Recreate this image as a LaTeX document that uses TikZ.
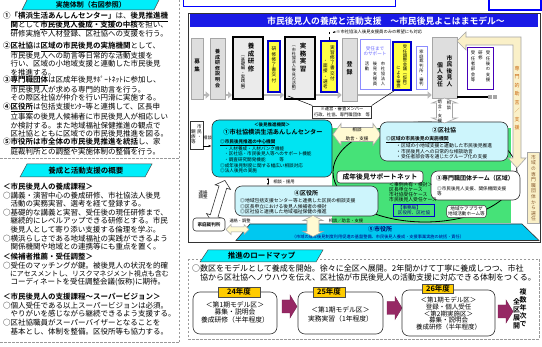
\documentclass[tikz,border=0pt]{standalone}
\usepackage{fontspec}
\setmainfont{Noto Sans CJK JP}[BoldFont={Noto Sans CJK JP Bold}]
\newfontfamily\jpv{Noto Sans CJK JP}[RawFeature=+vert,BoldFont={Noto Sans CJK JP Bold}]
\usetikzlibrary{arrows.meta,calc}
\pgfdeclarelayer{bg}
\pgfsetlayers{bg,main}
\definecolor{hcyan}{RGB}{0,238,250}
\definecolor{tblue}{RGB}{25,25,230}
\definecolor{cone}{RGB}{0,228,242}
\definecolor{lcyan}{RGB}{205,245,252}
\definecolor{grn}{RGB}{70,226,120}
\definecolor{cfive}{RGB}{0,200,240}
\definecolor{yel}{RGB}{255,255,70}
\definecolor{gbx}{RGB}{222,222,222}
\definecolor{beige}{RGB}{250,240,200}
\definecolor{mar}{RGB}{150,40,100}
\definecolor{ylab}{RGB}{255,204,0}
\definecolor{lyel}{RGB}{255,250,210}
\definecolor{brn}{RGB}{200,100,10}
\makeatletter
\newcommand\vtxt[1]{\@tfor\vt@c:=#1\do{\vt@c\par}}
\makeatother
\tikzset{
  pics/dbar/.style n args={4}{code={\draw[pic actions] (-#1,0) -- (-#1+#4,#3) -- (-#1+#4,#2) -- (#1-#4,#2) -- (#1-#4,#3) -- (#1,0) -- (#1-#4,-#3) -- (#1-#4,-#2) -- (-#1+#4,-#2) -- (-#1+#4,-#3) -- cycle;}},
  pics/sbar/.style n args={4}{code={\draw[pic actions] (-#1,-#2) -- (#1-#4,-#2) -- (#1-#4,-#3) -- (#1,0) -- (#1-#4,#3) -- (#1-#4,#2) -- (-#1,#2) -- cycle;}},
}
\begin{document}
\begin{tikzpicture}[x=1pt,y=-1pt,every node/.style={inner sep=0pt},
  lt/.style={anchor=west,font=\fontsize{7.5}{8}\selectfont},
  vt/.style={anchor=north,text width=14pt,align=center},
  vf/.style 2 args={vt,font={\jpv\fontsize{#1}{#2}\selectfont}},
  vfb/.style 2 args={vt,font={\jpv\bfseries\fontsize{#1}{#2}\selectfont}},
  fs/.style={font={\fontsize{#1}{#1}\selectfont}},
  fsb/.style={font={\bfseries\fontsize{#1}{#1}\selectfont}},
  dashl/.style={draw=gray!80,dash pattern=on 2.5pt off 1.5pt,line width=0.6pt},
  gbox/.style={draw=gray!70,fill=gbx,line width=0.6pt},
  kbox/.style={draw=black,fill=gbx!60,line width=2pt},
  ybox/.style={draw=blue!80!black,fill=yel,line width=1.2pt},
  lbbox/.style={draw=blue!45,fill=white,line width=1pt},
  rbox/.style={draw=black!80,line width=0.6pt,rounded corners=7pt},
  flow/.style={draw=gray!55,line width=2.6pt,-{Triangle[length=4pt,width=7pt]}},
]
\useasboundingbox (0,0) rectangle (542,347);
\begin{pgfonlayer}{bg}
\fill[white] (0,0) rectangle (542,347);
\end{pgfonlayer}

% ================= LEFT COLUMN =================
\draw[dashl] (179,0) -- (179,342);
\draw[dashl] (0,158) -- (179,158);
\draw[dashl] (0,342) -- (179,342);
\draw[fill=hcyan,draw=black!70,line width=0.5pt] (28,-2) -- (160,-2) -- (154,10) -- (22,10) -- cycle;
\node[fsb=7] (h1) at (91,4.5) {実施体制（右図参照）};
\node[lt] (l01) at (3,17) {\textbf{①}\underline{\textbf{「横浜生活あんしんセンター」}}は、\underline{\textbf{後見推進機}}};
\node[lt] (l02) at (3,25.5) {　\underline{\textbf{関}}として\underline{\textbf{市民後見人養成・支援の中核}}を担い、};
\node[lt] (l03) at (3,34) {　研修実施や人材登録、区社協への支援を行う。};
\node[lt] (l04) at (3,47) {\textbf{②}\underline{\textbf{区社協}}は\underline{\textbf{区域の市民後見の実施機関}}として、};
\node[lt] (l05) at (3,55.5) {　市民後見人への助言等日常的な活動支援を};
\node[lt] (l06) at (3,64) {　行い、区域の小地域支援と連動した市民後見};
\node[lt] (l07) at (3,72.5) {　を推進する。};
\node[lt] (l08) at (3,81) {\textbf{③}\underline{\textbf{専門職団体}}は区成年後見ｻﾎﾟｰﾄﾈｯﾄに参加し、};
\node[lt] (l09) at (3,89.5) {　市民後見人が求める専門的助言を行う。};
\node[lt] (l10) at (3,98) {　その際区社協が仲介を行い円滑に実施する。};
\node[lt] (l11) at (3,107.5) {\textbf{④}\underline{\textbf{区役所}}は包括支援ｾﾝﾀｰ等と連携して、区長申};
\node[lt] (l12) at (3,116.5) {　立事案の後見人候補者に市民後見人が相応しい};
\node[lt] (l13) at (3,125.5) {　か検討する。また地域福祉保健推進の観点で};
\node[lt] (l14) at (3,134) {　区社協とともに区域での市民後見推進を図る。};
\node[lt] (l15) at (3,143) {\textbf{⑤}\underline{\textbf{市役所は市全体の市民後見推進を統括}}し、家};
\node[lt] (l16) at (3,151.5) {　庭裁判所との調整や実施体制の整備を行う。};

\draw[fill=hcyan,draw=black!70,line width=0.5pt] (27,164) -- (152,164) -- (145,177) -- (20,177) -- cycle;
\node[fsb=7.5] (h2) at (86,170.5) {養成と活動支援の概要};
\node[lt,font=\bfseries\fontsize{7.5}{8}\selectfont] (m01) at (3,187) {＜市民後見人の養成課程＞};
\node[lt] (m02) at (3,195.5) {○講義・演習中心の養成研修、市社協法人後見};
\node[lt] (m03) at (3,203.5) {　活動の実務実習、選考を経て登録する。};
\node[lt] (m04) at (3,213) {○基礎的な講義と実習、受任後の現任研修まで、};
\node[lt] (m05) at (3,221) {　継続的にレベルアップできる研修とする。市民};
\node[lt] (m06) at (3,229.5) {　後見人として寄り添い支援する倫理を学ぶ。};
\node[lt] (m07) at (3,238.5) {○横浜らしさである地域福祉の実践ができるよう};
\node[lt] (m08) at (3,247) {　関係機関や地域との連携等にも重点を置く。};
\node[lt,font=\bfseries\fontsize{7.5}{8}\selectfont] (m09) at (3,257) {＜候補者推薦・受任調整＞};
\node[lt] (m10) at (3,265.5) {○受任のマッチングが鍵。被後見人の状況を的確};
\node[lt,font=\fontsize{6.9}{8}\selectfont] (m11) at (3,274) {　にアセスメントし、リスクマネジメント視点も含む};
\node[lt] (m12) at (3,282.5) {　コーディネートを受任調整会議(仮称)に期待。};
\node[lt,font=\bfseries\fontsize{7.5}{8}\selectfont] (m13) at (3,297) {＜市民後見人の支援課程〜スーパービジョン＞};
\node[lt] (m14) at (3,305.5) {○個人受任である以上スーパービジョンは必須。};
\node[lt] (m15) at (3,314) {　やりがいを感じながら継続できるよう支援する。};
\node[lt] (m16) at (3,323) {○区社協職員がスーパーバイザーとなることを};
\node[lt] (m17) at (3,331.5) {　基本とし、体制を整備。区役所等も協力する。};

% ================= RIGHT DIAGRAM =================
\draw[draw=blue,line width=0.8pt,fill=white] (183,-3) rectangle (395,6);
\draw[draw=blue,line width=1.2pt,fill=white] (489,-3) rectangle (541,10);
\draw[black!80,line width=0.6pt] (188,13) rectangle (540,242);
\fill[tblue] (190,14.5) rectangle (538,27.5);
\node[font=\bfseries\fontsize{8.8}{10}\selectfont,text=white] (title) at (386,21) {市民後見人の養成と活動支援　〜市民後見よこはまモデル〜};
\node[anchor=west,fs=4.3] (note1) at (336,32) {※市社協法人後見支援員のみの希望にも対応};

% process boxes
\node[gbox,minimum width=12,minimum height=61] (bosyu) at (197,68.5) {};
\node[gbox,minimum width=15,minimum height=61] (setsu) at (217.5,68.5) {};
\node[kbox,minimum width=30,minimum height=62] (kensyu) at (248,68) {};
\node[ybox,minimum width=12,minimum height=51] (shu1) at (274,66.5) {};
\node[kbox,minimum width=30,minimum height=62] (jm) at (300,68) {};
\node[ybox,minimum width=16,minimum height=51] (shu2) at (329,66.5) {};
\node[gbox,minimum width=15,minimum height=63] (toroku) at (349.5,69.5) {};
\node[lbbox,minimum width=30,minimum height=50] (sup) at (375,65) {};
\node[ybox,line width=1.6pt,minimum width=18,minimum height=48] (jc) at (402,66) {};
\node[lbbox,minimum width=11,minimum height=43] (kasai) at (421.5,68.5) {};
\node[gbox,minimum width=25,minimum height=61] (kojin) at (444.5,67.5) {};
\node[draw=blue!45!violet,line width=1pt,fill=white,minimum width=26,minimum height=42] (jugo) at (480,69) {};

\coordinate (fy) at (0,95);
\begin{pgfonlayer}{bg}
\draw[flow] (bosyu.east |- fy) -- (setsu.west |- fy);
\draw[flow] (setsu.east |- fy) -- (kensyu.west |- fy);
\draw[flow] (kensyu.east |- fy) -- (jm.west |- fy);
\draw[flow] (jm.east |- fy) -- (toroku.west |- fy);
\draw[flow] (toroku.east |- fy) -- (kojin.west |- fy);
\end{pgfonlayer}
\coordinate (ky) at (0,97);
\coordinate (kend) at (488,97);
\draw[line width=2.6pt] (kojin.east |- ky) -- (kend);
\fill[gray!70] (488,95.3) rectangle (491.5,98.7);
\fill[gray!70] (493,95.3) rectangle (496.5,98.7);

\node[vfb={5.5}{8}] (tbosyu) at (197,59) {\vtxt{募集}};
\node[vfb={5}{5.6}] (tsetsu) at (217.5,49) {\vtxt{養成研修説明会}};
\node[vfb={6.5}{7.5}] (tken1) at (251,43) {\vtxt{養成研修}};
\node[vf={4.3}{4.3}] (tken2) at (243,56) {\vtxt{（基礎編・実践編）}};
\node[vf={4.6}{5.2}] (tshu1) at (274,47) {\vtxt{研修修了書交付}};
\node[vfb={6.5}{7.5}] (tjm1) at (303,43) {\vtxt{実務実習}};
\node[vf={4.1}{4.15}] (tjm2) at (294,46) {\vtxt{（市社協法人後見の活動）}};
\node[vf={4.6}{5.2}] (tshu2a) at (332.5,45) {\vtxt{実習修了書交付}};
\node[vf={4.6}{5.2}] (tshu2b) at (325.5,60) {\vtxt{・面接・選考}};
\node[vfb={6}{8}] (ttoroku) at (349.5,61) {\vtxt{登録}};
\node[font=\fontsize{4.6}{5.2}\selectfont,text=blue!60,align=center] (tsup1) at (375,51) {受任まで\\のサポート};
\node[vf={4.3}{5}] (tsupa) at (383,62) {\vtxt{市社協法人}};
\node[vf={4.3}{5}] (tsupb) at (375,62) {\vtxt{後見支援員}};
\node[vf={4.3}{5}] (tsupc) at (367,62) {\vtxt{活動}};
\node[vf={4.3}{4.35}] (tjca) at (405,45) {\vtxt{受任調整会議（仮称）}};
\node[vf={4.3}{4.6}] (tjcb) at (398.5,66) {\vtxt{による審査}};
\node[vf={4.2}{4.6}] (tkasai) at (421.5,50) {\vtxt{家庭裁判所・審判}};
\node[vfb={5.8}{6.5}] (tkojin1) at (449.5,55) {\vtxt{市民後見人}};
\node[vfb={5.8}{6.5}] (tkojin2) at (440,62) {\vtxt{個人受任}};
\node[vf={4.4}{5.3}] (tjugo1) at (488,51) {\vtxt{受任後の支援}};
\node[vf={4.4}{5.3}] (tjugo2) at (480.5,51) {\vtxt{研修}};
\node[vf={4.4}{5.3}] (tjugo3) at (473,51) {\vtxt{受任者部会等}};

\draw[dashed,line width=0.5pt,-{Stealth[length=2.5pt]}] (shu2.north) -- (shu2.north |- note1) -- (note1.west);

% note box
\node[draw=black!80,fill=white,line width=0.5pt,font=\fontsize{4.3}{5.5}\selectfont,align=center,inner sep=1.5pt] (unei) at (342,112) {※運営・審査メンバー\\行政、社協、専門職団体　等};
\draw[line width=0.5pt] (unei.north west) -- ($(jm.south west)+(4,-4)$);
\draw[line width=0.5pt] (unei.north east) -- ($(jc.south west)+(2,0)$);

% green support net
\fill[grn] (332,128) rectangle (511,223);
\draw[line width=0.8pt] (425,172) ellipse [x radius=92, y radius=50];

% beige bent arrow
\draw[fill=beige,draw=gray!70,line width=0.6pt] (457,41) -- (466,32) -- (466,37) -- (521,37) -- (521,158) -- (526,158) -- (517,168) -- (508,158) -- (513,158) -- (513,45) -- (466,45) -- (466,50) -- cycle;
\node[vf={5}{8.5},text=brn] (tsenmon) at (517,66) {\vtxt{専門的助言／支援}};
\node[draw=gray!70,fill=beige,line width=0.6pt,minimum width=12,minimum height=71] (senbox) at (533.5,188) {};
\node[vf={4.8}{5.6},text=brown!70!black] (tsenbox) at (533.5,155) {\vtxt{市域の専門職団体から選任}};

% citizens
\node[draw=black!80,fill=white,line width=0.5pt,minimum width=13,minimum height=28] (shimin) at (196.5,135) {};
\node[vf={4.6}{5.2}] (tshimin1) at (199.5,124) {\vtxt{市民・}};
\node[vf={4.6}{5.2}] (tshimin2) at (193.5,129) {\vtxt{親族等}};

% center 1
\node[rbox,fill=cone,minimum width=120,minimum height=57] (cone) at (272,148.5) {};
\draw[-{Latex[length=3pt]},line width=0.6pt] (shimin.east |- 0,146) -- (cone.west |- 0,146);
\node[fs=4.3] (tsoudan0) at (207.5,138) {相談};
\node[fsb=4.5] (c1a) at (272,124.5) {＜後見推進機関＞};
\node[fsb=6.2] (c1b) at (273,132.5) {①市社協横浜生活あんしんセンター};
\node[anchor=west,font=\bfseries\fontsize{4.6}{5}\selectfont] (c1c) at (220,143) {\underline{◎市民後見推進の中心機関}};
\node[anchor=west,fs=4.6] (c1d) at (224,148.5) {・人材養成・人材バンク機能};
\node[anchor=west,fs=4.6] (c1e) at (224,154) {・区社協・市民後見人等へのサポート機能};
\node[anchor=west,fs=4.6] (c1f) at (224,159.5) {・調査研究開発機能　　　等};
\node[anchor=west,fs=4.6] (c1g) at (220,165.5) {◎成年後見制度に関する幅広い相談対応};
\node[anchor=west,fs=4.6] (c1h) at (220,171) {◎法人後見の実施};

% ku-yakusho 4
\node[rbox,fill=lcyan,minimum width=143,minimum height=30] (kuyaku) at (306.5,201) {};
\coordinate (a268) at (268,0);
\draw[{Latex[length=2.5pt]}-{Latex[length=2.5pt]},line width=0.8pt] (cone.south -| a268) -- (kuyaku.north -| a268);
\node[fs=4.3] (tsoudan1) at (284,181.5) {相談・援用};
\node[fsb=6] (k4a) at (306,193.5) {④区役所};
\node[anchor=west,fs=4.8] (k4b) at (240,201) {◎地域包括支援センター等と連携した区民の相談支援};
\node[anchor=west,fs=4.8] (k4c) at (240,206.5) {◎区長申立における後見人候補者の検討};
\node[anchor=west,fs=4.8] (k4d) at (240,212) {◎区社協と連携した地域福祉保健の推進};

% big diagonal double arrow
\pic[draw=black!80,fill=white,line width=0.6pt,rotate=73.2] at (218.5,201.5) {dbar={22}{4}{8}{7}};
\node[fs=4.5,align=center] (trenraku) at (203,195) {連絡\\調整};

% soudan arrow between 1 and 2
\pic[draw=gray!70,fill=lyel,line width=0.6pt] at (357,134.5) {dbar={24}{7}{11}{8}};
\node[fs=4.6] (tsd3) at (357,130) {相談};
\node[fs=4.6] (tsd4) at (357,138.5) {助言・支援};

% ku-shakyo 2
\node[rbox,fill=lcyan,minimum width=128,minimum height=39] (kusha) at (444,141.5) {};
\node[fsb=6] (k2a) at (444,130) {②区社協};
\node[anchor=west,font=\bfseries\fontsize{4.8}{5}\selectfont] (k2b) at (386,140) {\underline{◎区域の市民後見の実施機関}};
\node[anchor=west,fs=4.8] (k2c) at (396,146) {・区域の小地域支援と連動した市民後見推進};
\node[anchor=west,fs=4.8] (k2d) at (396,151.5) {・市民後見人への日常的な相談助言};
\node[anchor=west,fs=4.8] (k2e) at (396,157) {・受任者部会等を通じたグループ化の支援};

% vertical double arrow kojin - kusha
\pic[draw=gray!70,fill=white,line width=0.6pt,rotate=90] at (444.5,110.5) {dbar={12.5}{8}{12.5}{5}};
\node[vf={4.2}{4.6}] (tsd1) at (449,101) {\vtxt{相談}};
\node[vf={4.2}{4.6}] (tsd2) at (440,100) {\vtxt{助言・支援}};

% support net label
\node[draw=black!80,fill=white,line width=0.6pt,rounded corners=3pt,minimum width=86,minimum height=12,font=\bfseries\fontsize{6.8}{8}\selectfont] (snet) at (380,177) {成年後見サポートネット};

% 3 professional team
\node[rbox,fill=white,minimum width=89,minimum height=29] (sen) at (475.5,185.5) {};
\node[fsb=6] (s3a) at (475,178) {③専門職団体チーム（区域）};
\node[anchor=west,fs=4.6] (s3b) at (437,188.5) {◎市民後見人支援、関係機関支援};
\node[anchor=west,fs=4.6] (s3c) at (437,194) {等};

\node[anchor=west,fs=4.8] (g1) at (389,185) {＜事例共有・検討＞};
\node[anchor=west,fs=4.8] (g2) at (389,190) {区長申立ケース};
\node[anchor=west,fs=4.8] (g3) at (389,195) {市社協受任ケース};
\node[anchor=west,fs=4.8] (g4) at (389,200) {市民後見人受任ケース};
\node[draw=blue!80!black,line width=0.7pt,font=\fontsize{4.6}{5.2}\selectfont,align=left,inner sep=1.2pt,text=blue!50!black,minimum width=41] (jimu) at (414,210) {【事務局】\\区役所、区社協};
\node[draw=black!80,fill=white,line width=0.5pt,rounded corners=3pt,font=\fontsize{4.6}{5.2}\selectfont,align=center,inner sep=1.5pt] (care) at (466.5,211.5) {地域ケアプラザ\\地域活動ホーム等};

% city hall 5
\draw[fill=cfive,draw=black!80,line width=0.6pt] (250,224) -- (522,224) -- (539,240.5) -- (236,240.5) -- cycle;
\node[fsb=6,text=blue!40!black] (c5a) at (380,229.5) {⑤市役所};
\node[fs=4.2,text=blue!50!black] (c5b) at (378,236.5) {（市域の成年後見制度利用促進の基盤整備、市民後見人養成・支援事業実施の統括・責任）};
\pic[draw=gray!70,fill=lyel,line width=0.6pt,rotate=90] at (313,226) {dbar={10.5}{6}{10}{5}};
\node[fs=4.3] (tsd5) at (346,220.5) {相談／助言・支援};

\node[rbox,rounded corners=3pt,fill=white,minimum width=32,minimum height=13,font=\bfseries\fontsize{4.6}{5}\selectfont] (kasai2) at (209,224.5) {家庭裁判所};
\pic[draw=gray!70,fill=lyel,line width=0.5pt] at (237.5,229.5) {dbar={11.5}{2.5}{5}{5}};
\node[fs=4.2] (trc) at (240,220.5) {連絡・調整};

% ================= ROADMAP =================
\draw[dashl] (188,259) rectangle (539,339);
\draw[fill=hcyan,draw=black!70,line width=0.5pt] (208,250) -- (323,250) -- (316,262) -- (200,262) -- cycle;
\node[fsb=7.5] (h3) at (261.5,256) {推進のロードマップ};
\node[anchor=west,fs=8] (r1) at (192,268.5) {○数区をモデルとして養成を開始。徐々に全区へ展開。2年間かけて丁寧に養成しつつ、市社};
\node[anchor=west,fs=8] (r2) at (192,277.5) {　協から区社協へノウハウを伝え、区社協が市民後見人の活動支援に対応できる体制をつくる。};

\node[rbox,minimum width=84,minimum height=42] (y1box) at (235,313) {};
\node[draw=black!70,fill=ylab,line width=0.5pt,minimum width=42,minimum height=10,fsb=7.5] (y24) at (239,292) {24年度};
\node[fs=6.8] (y1a) at (235,305) {＜第1期モデル区＞};
\node[fs=6.8] (y1b) at (235,312) {募集・説明会};
\node[fs=6.8] (y1c) at (235,319.5) {養成研修（半年程度）};
\pic[draw=mar!80!black,fill=mar,line width=0.4pt] at (289.5,306.5) {sbar={7.5}{6.5}{11.5}{7}};

\node[rbox,minimum width=85,minimum height=42] (y2box) at (340.5,313) {};
\node[draw=black!70,fill=ylab,line width=0.5pt,minimum width=32,minimum height=10,fsb=7.5] (y25) at (329,292) {25年度};
\node[fs=6.8] (y2a) at (340.5,310) {＜第1期モデル区＞};
\node[fs=6.8] (y2b) at (340.5,318.5) {実務実習（1年程度）};
\pic[draw=mar!80!black,fill=mar,line width=0.4pt] at (394.5,308) {sbar={7.5}{6.5}{11.5}{7}};

\node[rbox,minimum width=93,minimum height=46] (y3box) at (448.5,313) {};
\node[draw=black!70,fill=ylab,line width=0.5pt,minimum width=31,minimum height=9,fsb=7.5] (y26) at (438,289) {26年度};
\node[fs=6.5] (y3a) at (448.5,300) {＜第1期モデル区＞};
\node[fs=6.5] (y3b) at (448.5,306.8) {登録・個人受任};
\node[fs=6.5] (y3c) at (448.5,313.6) {＜第2期実施区＞};
\node[fs=6.5] (y3d) at (448.5,320.4) {募集・説明会};
\node[fs=6.5] (y3e) at (448.5,327.2) {養成研修（半年程度）};
\pic[draw=mar!80!black,fill=mar,line width=0.4pt] at (505.5,311.5) {sbar={7.5}{6.5}{11.5}{7}};
\node[vfb={7}{8}] (yv1) at (523,288) {\vtxt{複数年次で}};
\node[vfb={7}{8}] (yv2) at (516.5,298) {\vtxt{全区展開}};
\end{tikzpicture}
\end{document}
